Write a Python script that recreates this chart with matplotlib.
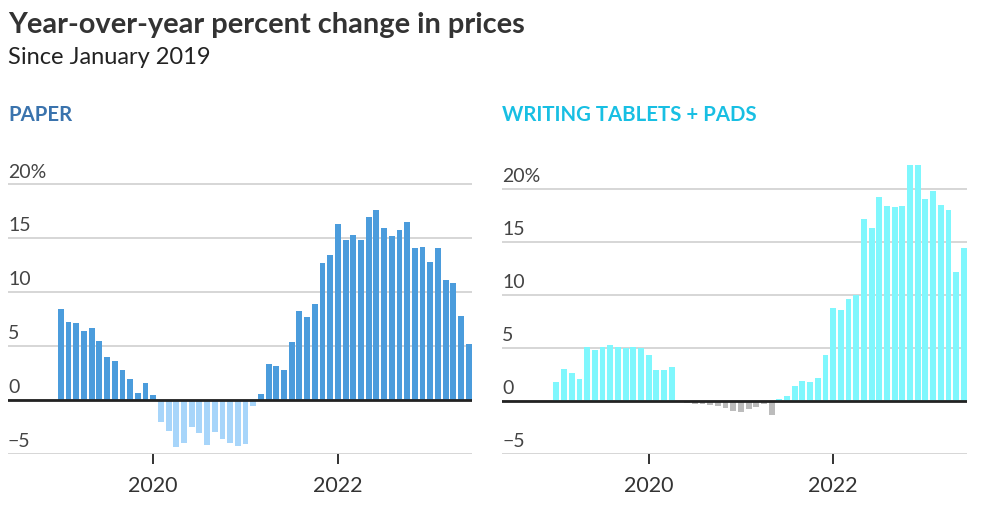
import numpy as np
import matplotlib
matplotlib.use('Agg')
import matplotlib.pyplot as plt

# monthly data, Jan 2019 .. Jun 2023 (index 0 = Jan 2019)
paper = [8.4, 7.2, 7.1, 6.4, 6.7, 5.5, 4.0, 3.6, 2.8, 1.9, 0.6, 1.6,
         0.4, -2.1, -2.9, -4.4, -4.0, -2.5, -3.1, -4.2, -3.0, -3.6, -4.0, -4.3,
         -4.1, -0.6, 0.5, 3.3, 3.1, 2.8, 5.4, 8.2, 7.7, 8.9, 12.7, 13.4,
         16.3, 14.8, 15.3, 14.8, 17.0, 17.6, 15.9, 15.2, 15.8, 16.5, 14.1, 14.2,
         12.8, 14.1, 11.1, 10.8, 7.8, 5.2]
tablets = [1.8, 3.0, 2.6, 2.0, 5.1, 4.8, 5.1, 5.3, 5.1, 5.0, 5.1, 5.0,
           4.3, 2.9, 2.9, 3.2, 0.0, -0.2, -0.3, -0.35, -0.4, -0.5, -0.7, -1.0,
           -1.1, -0.8, -0.55, -0.3, -1.35, 0.15, 0.45, 1.4, 1.9, 1.8, 2.1, 4.3,
           8.7, 8.6, 9.6, 10.0, 17.1, 16.3, 19.2, 18.4, 18.3, 18.4, 22.3, 22.3,
           19.0, 19.8, 18.5, 18.0, 12.1, 14.4]
months = np.arange(len(paper))
year_ticks = [12, 36]
year_labels = ['2020', '2022']
y_ticks = [-5, 0, 5, 10, 15, 20]
y_labels = ['\u22125', '0', '5', '10', '15', '20%']

plt.rcParams['font.family'] = ['Lato', 'DejaVu Sans']

fig = plt.figure(figsize=(10, 5.18), dpi=100)
W, H = 1000, 518

def px_axes(x0, x1, y0, y1):
    return fig.add_axes([x0 / W, 1 - y1 / H, (x1 - x0) / W, (y1 - y0) / H])

panels = [
    (px_axes(8, 471.7, 160, 453.7), paper, '#4b9cdc', '#a7d5fa', 'PAPER', '#3a73ad', 22.25, (-6.87, 53.39)),
    (px_axes(502.3, 966.7, 164.7, 453.7), tablets, '#7ff7fd', '#bcbcbc', 'WRITING TABLETS + PADS', '#18bfe3', 22.26, (-7.04, 53.37)),
]

for ax, vals, cpos, cneg, name, ncol, ytop, xl in panels:
    vals = np.array(vals)
    cols = [cpos if v >= 0 else cneg for v in vals]
    ax.bar(months, vals, width=0.76, color=cols, zorder=2)
    ax.set_ylim(-5, ytop)
    ax.set_xlim(*xl)
    ax.set_yticks(y_ticks)
    ax.set_yticklabels([])
    ax.tick_params(axis='y', length=0)
    ax.grid(axis='y', color='#cccccc', lw=1.1, zorder=0)
    ax.set_axisbelow(True)
    ax.axhline(0, color='#222222', lw=2, zorder=3)
    for s in ax.spines.values():
        s.set_visible(False)
    ax.set_xticks(year_ticks)
    ax.set_xticklabels(year_labels, fontsize=15.5, color='#333333')
    ax.tick_params(axis='x', length=7, width=1.3, color='#222222', pad=9)
    for v, lab in zip(y_ticks, y_labels):
        ax.annotate(lab, xy=(0, v), xycoords=ax.get_yaxis_transform(),
                    xytext=(0, 4.8), textcoords='offset points',
                    ha='left', va='baseline', fontsize=14, color='#444444')
    x0 = ax.get_position().x0
    fig.text(x0, 1 - 121 / H, name, fontsize=14.7, fontweight='bold', color=ncol, va='baseline')

fig.text(8 / W, 1 - 33.3 / H, 'Year-over-year percent change in prices',
         fontsize=20.9, fontweight='bold', color='#333333', va='baseline')
fig.text(8 / W, 1 - 64 / H, 'Since January 2019', fontsize=17, color='#222222', va='baseline')

fig.savefig('out.png', dpi=100)
